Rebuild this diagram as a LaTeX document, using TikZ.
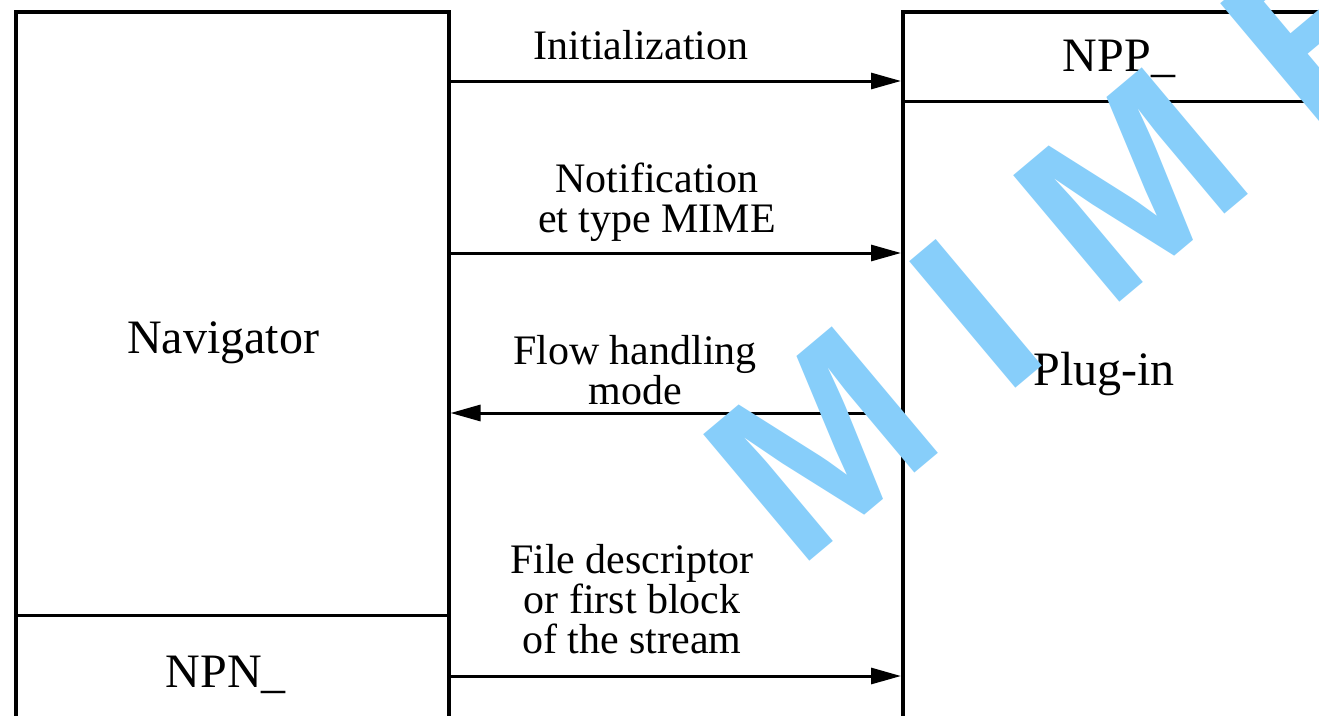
\documentclass[tikz,border=0pt]{standalone}
\usepackage{fontspec}
\setmainfont{Liberation Serif}
\newfontfamily\wmfont{Liberation Sans}
\usetikzlibrary{arrows.meta}
\definecolor{wmblue}{RGB}{135,206,250}
\begin{document}
\begin{tikzpicture}[x=1pt,y=-1pt,
 box/.style={draw, line width=3.5pt, inner sep=0pt, anchor=north west},
 divider/.style={line width=3pt},
 flow/.style={line width=3pt, -{Triangle[length=30pt,width=16pt]}},
 big/.style={font=\fontsize{48}{56}\selectfont, anchor=base, inner sep=0pt},
 lbl/.style={font=\fontsize{42}{40}\selectfont, anchor=base, align=center, inner sep=0pt},
 wm/.style={font=\wmfont\bfseries\fontsize{240}{240}\selectfont, text=wmblue, rotate=40, inner sep=0pt}]
\useasboundingbox[fill=white] (0,0) rectangle (1319,715);
\node[box, minimum width=433pt, minimum height=705.5pt] (nav) at (14,10) {};
\node[box, minimum width=450pt, minimum height=705.5pt] (plug) at (901,10) {};
\coordinate (d1) at (0,615);
\coordinate (d2) at (0,101);
\draw[divider] (nav.west |- d1) -- (nav.east |- d1);
\draw[divider] (plug.west |- d2) -- (plug.east |- d2);
\coordinate (a1) at (0,81);
\coordinate (a2) at (0,253);
\coordinate (a4) at (0,676);
\coordinate (f0) at (867,413);
\draw[flow] (nav.east |- a1) -- (plug.west |- a1);
\draw[flow] (nav.east |- a2) -- (plug.west |- a2);
\draw[flow] (f0) -- (nav.east |- f0);
\draw[flow] (nav.east |- a4) -- (plug.west |- a4);
\node[big] (navl) at (223,353) {Navigator};
\node[big] (npn) at (226,687) {NPN\_};
\node[big] (npp) at (1119,71) {NPP\_};
\node[big] (plugl) at (1104,385) {Plug-in};
\node[lbl] (l1) at (641,59) {Initialization};
\node[lbl] (l2) at (657,232) {Notification\\et type MIME};
\node[lbl] (l3) at (635,404) {Flow handling\\mode};
\node[lbl] (l4) at (632,653) {File descriptor\\or first block\\of the stream};
\node[wm] (w1) at (821,444) {M};
\node[wm] (w2) at (976,314) {I};
\node[wm] (w3) at (1131,185) {M};
\node[wm] (w4) at (1323,26) {E};
\end{tikzpicture}
\end{document}
